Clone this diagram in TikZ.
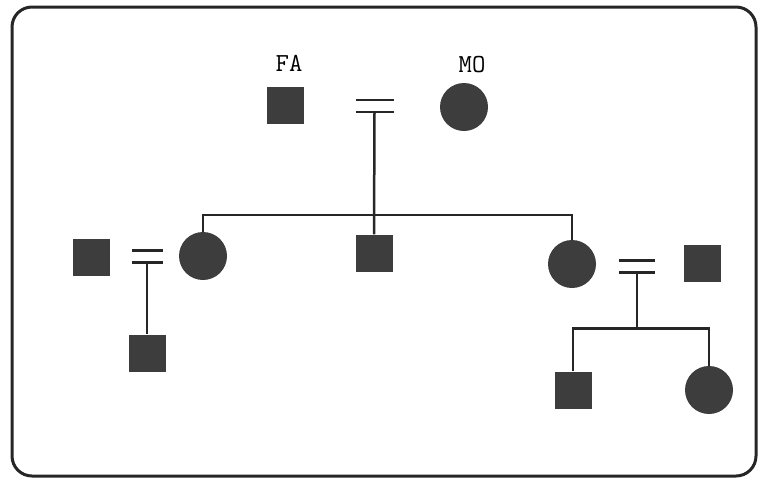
\documentclass[tikz,border=0pt]{standalone}
\usetikzlibrary{calc}

\tikzset{
  male/.style={rectangle, fill=black!76, minimum size=37pt, inner sep=0pt},
  female/.style={circle, fill=black!76, minimum size=48pt, inner sep=0pt},
  tag/.style={font=\ttfamily\fontsize{26}{26}\selectfont},
  link/.style={line width=2.5pt, color=black!85},
}
% a marriage mark: two short bars between the partners
\def\marriage[#1](#2)#3{
  \draw[link] ($(#2)+(-#3/2,-6)$) -- ++(#3,0);
  \draw[link] ($(#2)+(-#3/2,6)$) -- ++(#3,0);
  \coordinate (#1) at ($(#2)+(0,6)$);
}

\begin{document}
\begin{tikzpicture}[x=1pt, y=-1pt]
  %%%%% START %%%%%
  \useasboundingbox (0,0) rectangle (759,483);
  \draw[line width=3pt, rounded corners=20pt, color=black!85] (12,7) rectangle (756,476);

  % grandparents
  \node[male] (fa) at (285,105) {};
  \node[female] (mo) at (464,107) {};
  \node[tag] (falab) at (289,63) {FA};
  \node[tag] (molab) at (472,65) {MO};

  % children
  \node[female] (ld) at (203,256) {};
  \node[male] (ms) at (374,253) {};
  \node[female] (rd) at (572,264) {};

  % spouses
  \node[male] (lh) at (91,257) {};
  \node[male] (rh) at (702,263) {};

  % grandchildren
  \node[male] (c1) at (147,353) {};
  \node[male] (c2) at (573,390) {};
  \node[female] (c3) at (709,390) {};

  \coordinate (m1) at ($(fa)!0.5!(mo)$);
  \coordinate (m2) at ($(lh)!0.5!(ld)$);
  \coordinate (m3) at ($(rd)!0.5!(rh)+(0,3)$);

  \marriage[d1](m1){38}
  \marriage[d2](m2){31}
  \marriage[d3](m3){36}

  % descent lines
  \coordinate (bar1) at (374,215);
  \draw[link] (d1) -- (ms.north);
  \draw[link] (ld.north) |- (bar1) -| (rd.north);

  \draw[link] (d2) -- (c1.north);

  \coordinate (bar2) at ($(d3)+(0,56)$);
  \draw[link] (d3) -- (bar2);
  \draw[link] (c2.north) |- (bar2) -| (c3.north);
  %%%%% END %%%%%
\end{tikzpicture}
\end{document}
